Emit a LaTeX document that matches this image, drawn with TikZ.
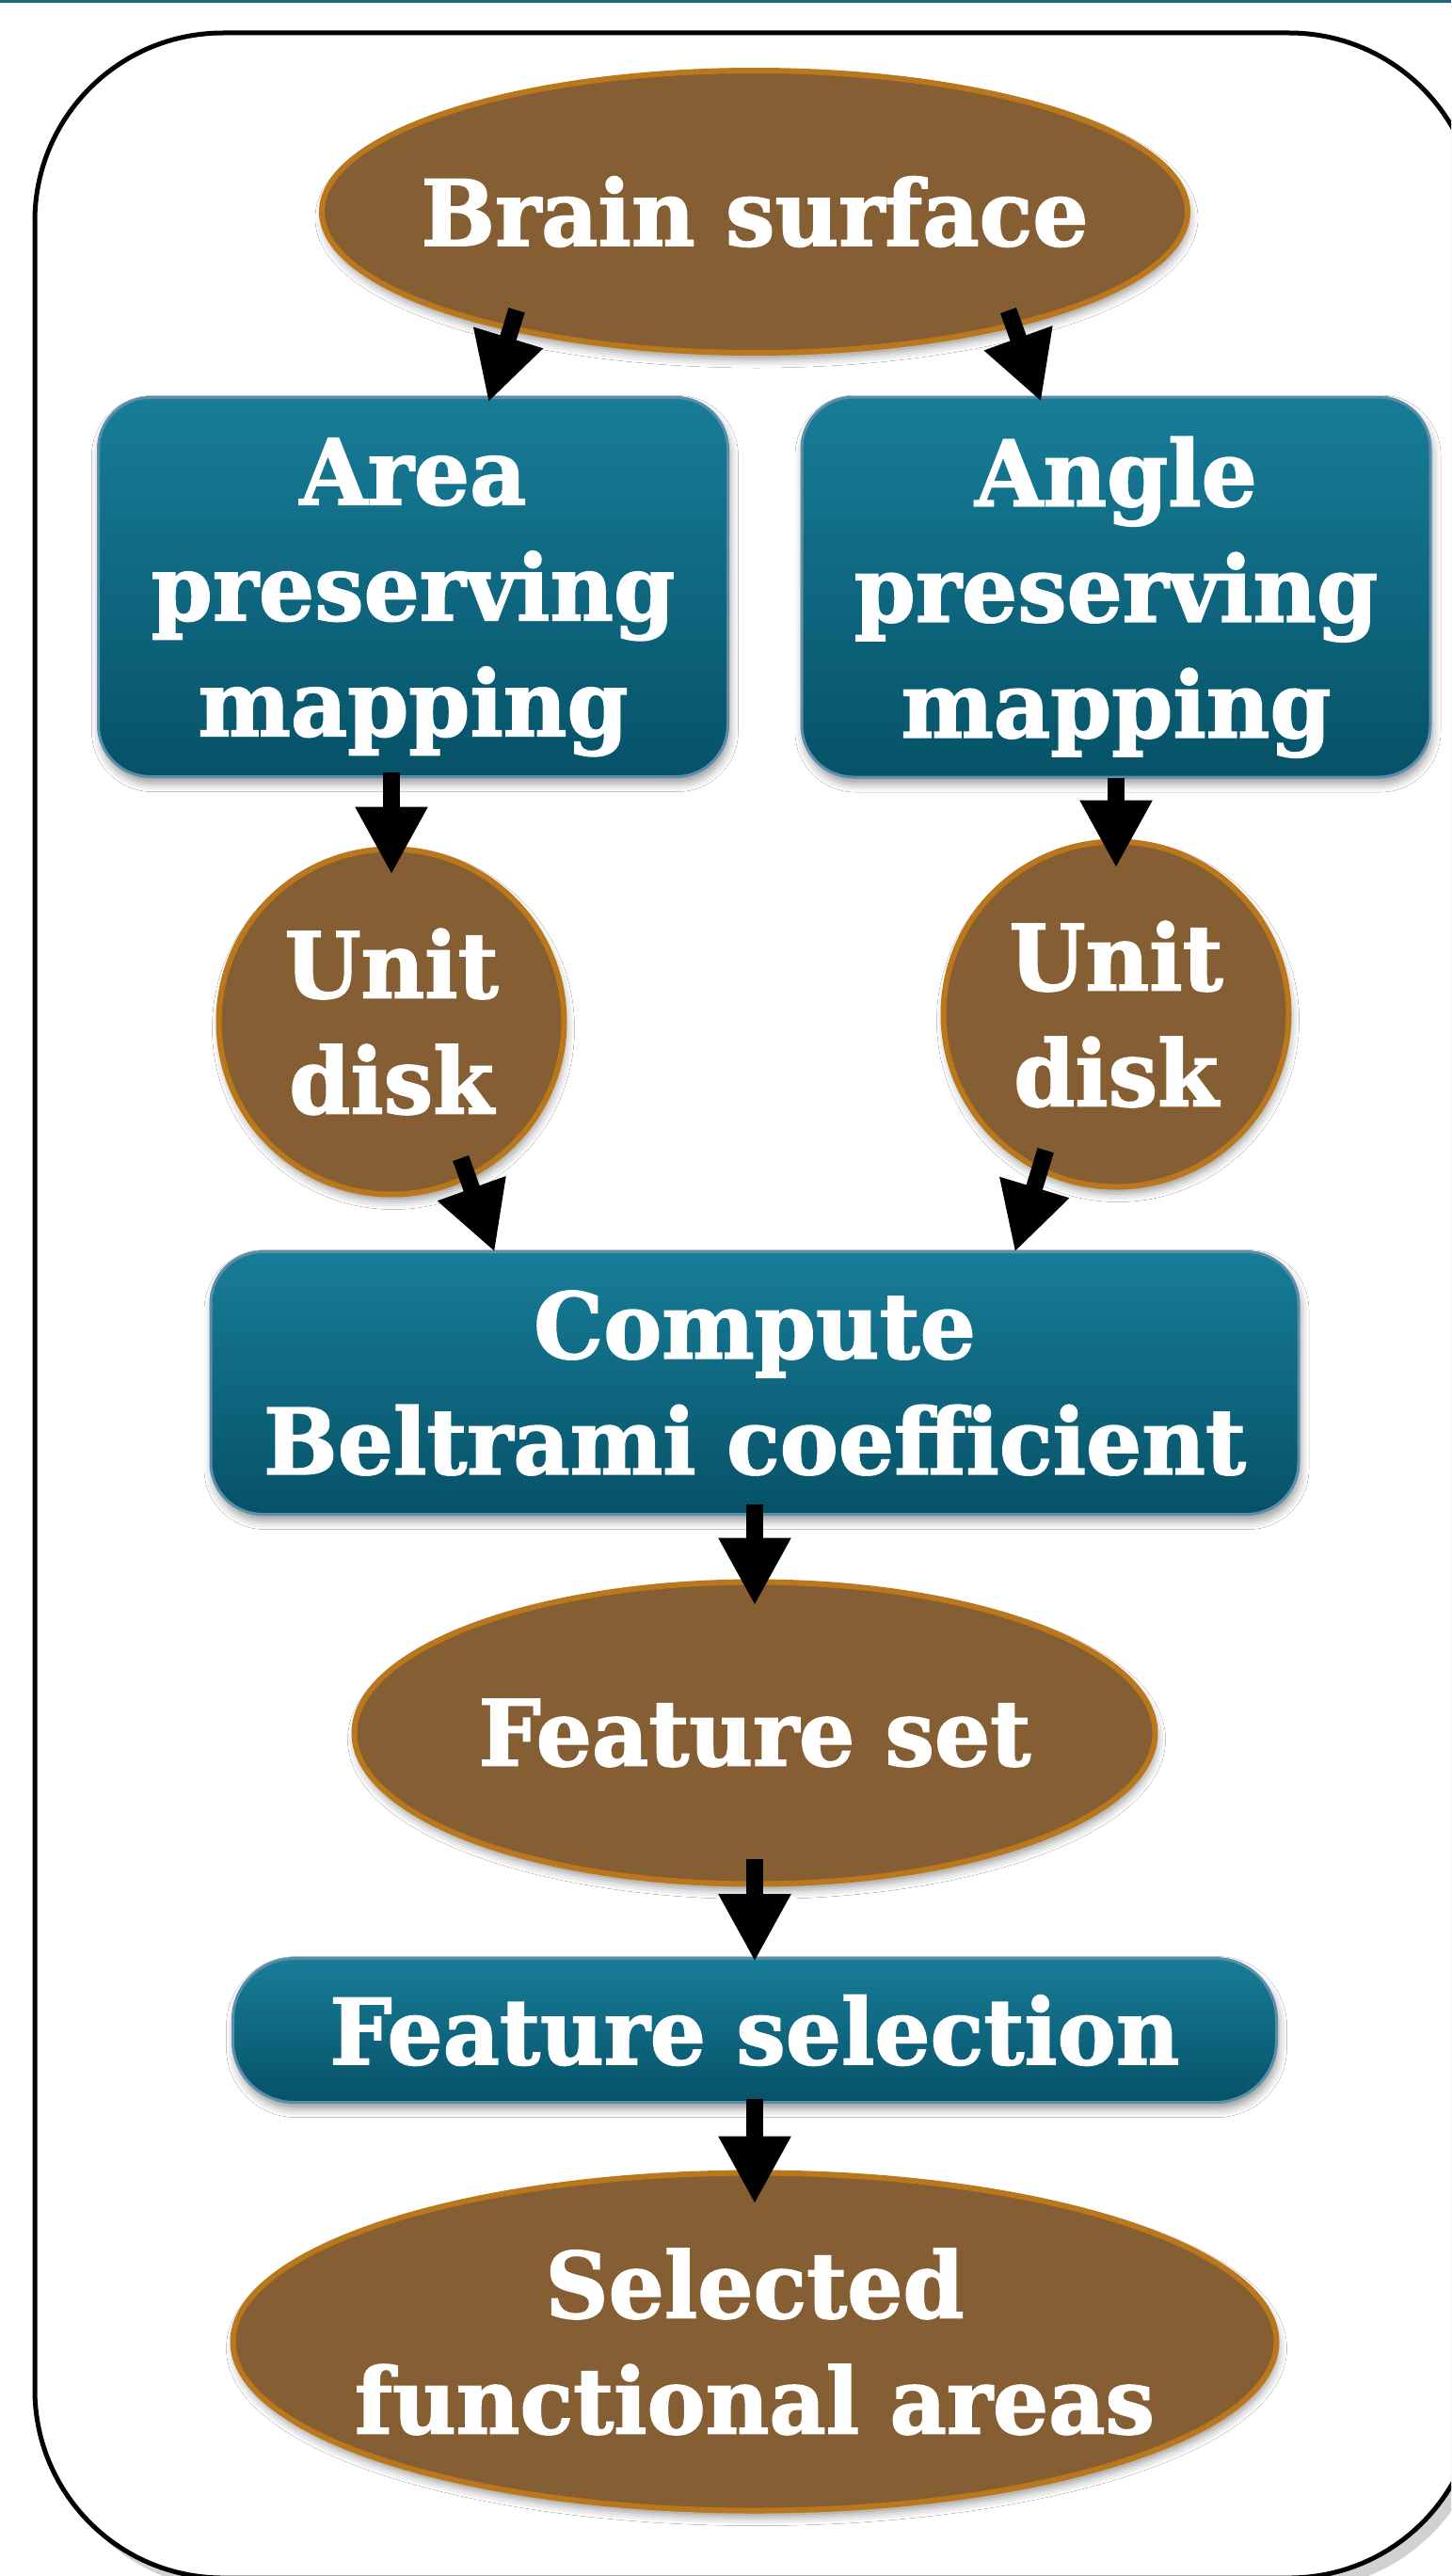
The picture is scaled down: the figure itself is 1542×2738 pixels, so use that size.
\documentclass[tikz,border=0pt]{standalone}
\usepackage{fontspec}
\newfontfamily\slab{DejaVu Serif}[FakeStretch=0.96, BoldFeatures={FakeBold=1.6}]
\usetikzlibrary{shapes.geometric,arrows.meta,shadows.blur}
\definecolor{bronze}{RGB}{133, 95, 51}
\definecolor{amber}{RGB}{186,119, 28}
\definecolor{petrol}{RGB}{ 24,125,152}
\definecolor{deeppetrol}{RGB}{  6, 82,104}
\definecolor{steel}{RGB}{ 92,142,172}
\definecolor{strip}{RGB}{ 30,104,130}

\tikzset{
  softshadow/.style={blur shadow={shadow xshift=2pt, shadow yshift=-7pt, shadow blur radius=9pt, shadow opacity=40}},
  stage/.style={ellipse, draw=amber, fill=bronze, line width=6pt, inner xsep=-80pt, inner ysep=0pt, softshadow},
  disk/.style={circle, draw=amber, fill=bronze, line width=6pt, inner sep=0pt, minimum size=367pt, softshadow},
  task/.style={rectangle, rounded corners=55pt, draw=steel, line width=3pt, top color=petrol, bottom color=deeppetrol, inner sep=0pt, softshadow},
  flow/.style={line width=18pt, -{Triangle[length=72pt,width=72pt]}},
  every node/.style={text=white, align=center, font=\slab\bfseries\fontsize{97}{123}\selectfont}
}

\begin{document}
\begin{tikzpicture}[x=1pt,y=-1pt]
            \useasboundingbox (0,0) rectangle (1542,2738);
            \clip             (0,0) rectangle (1542,2738);
            \fill[strip]                                                  (   0,   0) rectangle (1542,   3);
            \fill[black!18, rounded corners=200pt]                        (  47,  47) rectangle (1580,2752);
            \filldraw[fill=white, draw=black, line width=5pt, rounded corners=200pt](37,35) rectangle (1570,2740);

            \node[stage, minimum width=920pt,  minimum height=300pt] (brain)    at ( 802, 225) {Brain surface};
            \node[task,  minimum width=669pt,  minimum height=403pt, text depth=0pt] (area)  at ( 439, 624) {Area\\preserving\\mapping};
            \node[task,  minimum width=668pt,  minimum height=404pt, text depth=0pt] (angle) at (1186, 624) {Angle\\preserving\\mapping};
            \node[disk]                                              (unitL)    at ( 416,1086) {Unit\\disk};
            \node[disk]                                              (unitR)    at (1186,1078) {Unit\\disk};
            \node[task,  minimum width=1156pt, minimum height=279pt] (compute)  at ( 802,1470) {Compute\\Beltrami coefficient};
            \node[stage, minimum width=851pt,  minimum height=321pt] (featset)  at ( 802,1842) {Feature set};
            \node[task,  minimum width=1109pt, minimum height=153pt, rounded corners=65pt] (featsel) at (802,2158) {Feature selection};
            \node[stage, minimum width=1109pt, minimum height=359pt] (selected) at ( 802,2489) {Selected\\functional areas};

            \draw[flow, shorten <=-23pt, shorten >=-7pt]  (brain.206)            -- ([xshift=82pt]area.north);
            \draw[flow, shorten <=-19pt, shorten >=-7pt]  (brain.336)            -- ([xshift=-82pt]angle.north);
            \draw[flow, shorten <=-6pt,  shorten >=-30pt] (area.south -| unitL)  -- (unitL.north);
            \draw[flow, shorten <=-1pt,  shorten >=-31pt] (angle.south)          -- (unitR.north);
            \draw[flow, shorten <=-24pt, shorten >=-2pt]  (unitL.-64)            -- ([xshift=-277pt]compute.north);
            \draw[flow, shorten <=-24pt, shorten >=-2pt]  (unitR.-116)           -- ([xshift=277pt]compute.north);
            \draw[flow, shorten <=-12pt, shorten >=-28pt] (compute.south)        -- (featset.north);
            \draw[flow, shorten <=-30pt, shorten >=-5pt]  (featset.south)        -- (featsel.north);
            \draw[flow, shorten <=-5pt,  shorten >=-36pt] (featsel.south)        -- (selected.north);
\end{tikzpicture}
\end{document}
